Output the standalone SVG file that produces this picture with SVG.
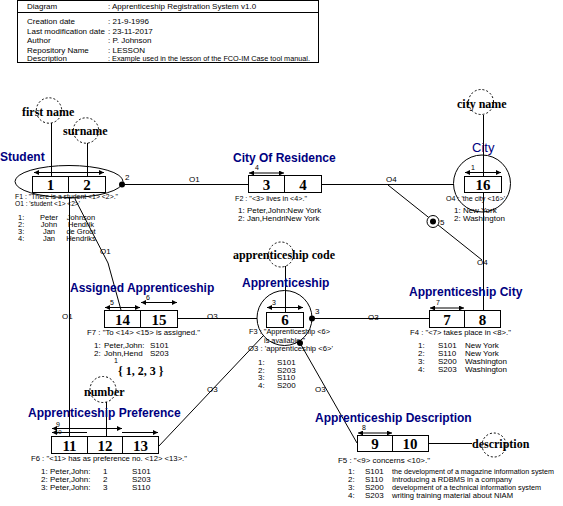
<svg xmlns="http://www.w3.org/2000/svg" width="563" height="506" viewBox="0 0 563 506">
<style>
text{font-family:"Liberation Sans",Arial,sans-serif;fill:#000}
.s{font-size:8px}
.r{font-size:7.5px}
.n{font-size:7px}
.ti{font-size:12px;font-weight:bold;fill:#000080}
.c{font-family:"Liberation Serif","Times New Roman",serif;font-size:15px;font-weight:bold;text-anchor:middle}
.l{font-family:"Liberation Serif","Times New Roman",serif;font-size:12px;font-weight:bold}
.ln{stroke:#000;stroke-width:1;fill:none}
.bx{stroke:#000;stroke-width:1;fill:#fff}
.d{stroke:#000;stroke-width:1;fill:none;stroke-dasharray:2,2}
.u{stroke:#000;stroke-width:1;fill:none;marker-start:url(#ah);marker-end:url(#ah)}
.m{text-anchor:middle}
</style>
<defs>
<marker id="ah" viewBox="0 0 6 6" refX="6" refY="3" markerWidth="5" markerHeight="5" markerUnits="userSpaceOnUse" orient="auto-start-reverse"><path d="M0,0L6,3L0,6z" fill="#000"/></marker>
</defs>
<rect width="563" height="506" fill="#fff"/>

<g id="header">
<rect x="17.5" y="0.5" width="301" height="62" class="ln"/>
<line x1="17.5" y1="12.5" x2="318.5" y2="12.5" class="ln"/>
<text class="s" x="27" y="9">Diagram</text><text class="s" x="108" y="9">: Apprenticeship Registration System v1.0</text>
<text class="s" x="27" y="24">Creation date</text><text class="s" x="108" y="24">: 21-9-1996</text>
<text class="s" x="27" y="34">Last modification date</text><text class="s" x="108" y="34">: 23-11-2017</text>
<text class="s" x="27" y="43">Author</text><text class="s" x="108" y="43">: P. Johnson</text>
<text class="s" x="27" y="53">Repository Name</text><text class="s" x="108" y="53">: LESSON</text>
<text class="s" x="27" y="61">Description</text><text class="s" x="108" y="61" textLength="202" lengthAdjust="spacingAndGlyphs">: Example used in the lesson of the FCO-IM Case tool manual.</text>
</g>

<g id="connectors">
<line x1="122" y1="184.5" x2="248" y2="184.5" class="ln"/>
<line x1="321" y1="184.5" x2="454" y2="184.5" class="ln"/>
<line x1="388" y1="185" x2="482" y2="260" class="ln"/>
<line x1="483.5" y1="115" x2="483.5" y2="176" class="ln"/>
<line x1="483.5" y1="192" x2="483.5" y2="310" class="ln"/>
<line x1="69.5" y1="197" x2="69.5" y2="436" class="ln"/>
<polyline points="75,199 108,263 121,310" class="ln"/>
<line x1="177" y1="318.5" x2="257" y2="318.5" class="ln"/>
<line x1="312" y1="318.5" x2="429" y2="318.5" class="ln"/>
<line x1="158" y1="447" x2="263" y2="336" class="ln"/>
<line x1="357" y1="443" x2="300" y2="343" class="ln"/>
<line x1="285.5" y1="266" x2="285.5" y2="312" class="ln"/>
<line x1="106.5" y1="402" x2="106.5" y2="436" class="ln"/>
<line x1="428" y1="443.5" x2="472" y2="443.5" class="ln"/>
<line x1="51.5" y1="123" x2="51.5" y2="176" class="ln"/>
<line x1="87.5" y1="143" x2="87.5" y2="176" class="ln"/>
<circle cx="122" cy="184.5" r="3" fill="#000"/>
<circle cx="312" cy="318.5" r="3" fill="#000"/>
<circle cx="300" cy="343" r="3" fill="#000"/>
<circle cx="433" cy="221.5" r="6" class="bx"/>
<circle cx="433" cy="221.5" r="3" fill="#000"/>
<text class="s" x="125" y="180">2</text>
<text class="s" x="189" y="182">O1</text>
<text class="s" x="386" y="182">O4</text>
<text class="s" x="440" y="225">5</text>
<text class="s" x="477" y="265">O4</text>
<text class="s" x="62" y="319">O1</text>
<text class="s" x="100" y="254">O1</text>
<text class="s" x="207" y="319">O3</text>
<text class="s" x="315" y="314">3</text>
<text class="s" x="368" y="320">O3</text>
<text class="s" x="207" y="392">O3</text>
<text class="s" x="315" y="392">O3</text>
</g>

<g id="first-name">
<circle cx="49" cy="110.5" r="12.7" class="d"/>
<text class="l" x="22" y="116">first name</text>
</g>
<g id="surname">
<circle cx="86" cy="130.5" r="12.7" class="d"/>
<text class="l" x="63" y="135">surname</text>
</g>
<g id="city-name">
<circle cx="481" cy="102" r="12.5" class="d"/>
<text class="l" x="457" y="108">city name</text>
</g>
<g id="apprenticeship-code">
<circle cx="281" cy="254.5" r="12.5" class="d"/>
<text class="l" x="233" y="259">apprenticeship code</text>
</g>
<g id="number">
<circle cx="103" cy="389.5" r="13" class="d"/>
<text class="l" x="84" y="396">number</text>
<text class="n" x="114" y="363">1</text>
<text class="l" x="118" y="375">{ 1, 2, 3 }</text>
</g>
<g id="description">
<circle cx="494" cy="445" r="12" class="d"/>
<text class="l" x="472" y="448">description</text>
</g>

<g id="student">
<text class="ti" x="0" y="161">Student</text>
<ellipse cx="69" cy="181.5" rx="54" ry="16" class="ln"/>
<rect x="32.5" y="176.5" width="73" height="16" class="bx"/>
<line x1="68.5" y1="176.5" x2="68.5" y2="192.5" class="ln"/>
<line x1="34" y1="172.5" x2="104" y2="172.5" class="u"/>
<text class="c" x="50.5" y="190">1</text>
<text class="c" x="87" y="190">2</text>
<text class="s" x="15" y="199" textLength="103" lengthAdjust="spacingAndGlyphs">F1 : "There is a student &lt;1&gt; &lt;2&gt;."</text>
<text class="s" x="15" y="206" textLength="65" lengthAdjust="spacingAndGlyphs">O1 : 'student &lt;1&gt; &lt;2&gt;'</text>
<text class="r" x="18" y="220">1:</text><text class="r m" x="49" y="220">Peter</text><text class="r m" x="81" y="220">Johnson</text>
<text class="r" x="18" y="227">2:</text><text class="r m" x="49" y="227">John</text><text class="r m" x="81" y="227">Hendrik</text>
<text class="r" x="18" y="234">3:</text><text class="r m" x="49" y="234">Jan</text><text class="r m" x="81" y="234">de Groot</text>
<text class="r" x="18" y="241">4:</text><text class="r m" x="49" y="241">Jan</text><text class="r m" x="81" y="241">Hendriks</text>
</g>

<g id="city-of-residence">
<text class="ti" x="233" y="162">City Of Residence</text>
<rect x="248.5" y="175.5" width="73" height="17" class="bx"/>
<line x1="284.5" y1="175.5" x2="284.5" y2="192.5" class="ln"/>
<line x1="249" y1="173" x2="284" y2="173" class="u"/>
<text class="n" x="255" y="170">4</text>
<text class="c" x="266.5" y="190">3</text>
<text class="c" x="303" y="190">4</text>
<text class="s" x="235" y="201" textLength="72" lengthAdjust="spacingAndGlyphs">F2 : "&lt;3&gt; lives in &lt;4&gt;."</text>
<text class="s" x="238" y="213">1:  Peter,John:New York</text>
<text class="s" x="238" y="221">2:  Jan,HendriNew York</text>
</g>

<g id="city">
<text class="ti" x="472" y="152" style="font-weight:normal;font-size:13px">City</text>
<circle cx="482" cy="183.5" r="28.5" class="ln"/>
<rect x="464.5" y="176.5" width="37" height="16" class="bx"/>
<line x1="465" y1="172.5" x2="501" y2="172.5" class="u"/>
<text class="n" x="471" y="170">1</text>
<text class="c" x="483" y="190">16</text>
<text class="s" x="446" y="201" textLength="59" lengthAdjust="spacingAndGlyphs">O4 : 'the city &lt;16&gt;'</text>
<text class="s" x="454" y="213">1:  New York</text>
<text class="s" x="454" y="221">2:  Washington</text>
</g>

<g id="assigned-apprenticeship">
<text class="ti" x="70" y="292">Assigned Apprenticeship</text>
<rect x="104.5" y="310.5" width="73" height="17" class="bx"/>
<line x1="140.5" y1="310.5" x2="140.5" y2="327.5" class="ln"/>
<line x1="105" y1="307.5" x2="140" y2="307.5" class="u"/>
<line x1="141" y1="302.5" x2="177" y2="302.5" class="u"/>
<text class="n" x="110" y="305">5</text>
<text class="n" x="146" y="300">6</text>
<text class="c" x="122.5" y="325">14</text>
<text class="c" x="159" y="325">15</text>
<text class="s" x="87" y="335" textLength="113" lengthAdjust="spacingAndGlyphs">F7 : "To &lt;14&gt; &lt;15&gt; is assigned."</text>
<text class="s" x="94" y="348">1:</text><text class="s" x="104" y="348">Peter,John:</text><text class="s" x="150" y="348">S101</text>
<text class="s" x="94" y="356">2:</text><text class="s" x="104" y="356">John,Hend</text><text class="s" x="150" y="356">S203</text>
</g>

<g id="apprenticeship">
<text class="ti" x="242" y="287">Apprenticeship</text>
<circle cx="284.5" cy="318" r="27.5" class="ln"/>
<rect x="266.5" y="312.5" width="37" height="15" class="bx"/>
<line x1="267" y1="307.5" x2="303" y2="307.5" class="u"/>
<text class="n" x="272" y="305">3</text>
<text class="c" x="285" y="325">6</text>
<text class="s" x="249" y="334" textLength="81" lengthAdjust="spacingAndGlyphs">F3 : "Apprenticeship &lt;6&gt;</text>
<text class="s" x="264" y="343" textLength="41" lengthAdjust="spacingAndGlyphs">is available."</text>
<text class="s" x="248" y="351" textLength="85" lengthAdjust="spacingAndGlyphs">O3 : 'apprenticeship &lt;6&gt;'</text>
<text class="s" x="258" y="365">1:</text><text class="s" x="277" y="365">S101</text>
<text class="s" x="258" y="373">2:</text><text class="s" x="277" y="373">S203</text>
<text class="s" x="258" y="380">3:</text><text class="s" x="277" y="380">S110</text>
<text class="s" x="258" y="388">4:</text><text class="s" x="277" y="388">S200</text>
</g>

<g id="apprenticeship-city">
<text class="ti" x="409" y="296">Apprenticeship City</text>
<rect x="429.5" y="310.5" width="71" height="17" class="bx"/>
<line x1="464.5" y1="310.5" x2="464.5" y2="327.5" class="ln"/>
<line x1="430" y1="308" x2="464" y2="308" class="u"/>
<text class="n" x="436" y="305">7</text>
<text class="c" x="447" y="325">7</text>
<text class="c" x="482.5" y="325">8</text>
<text class="s" x="410" y="335" textLength="101" lengthAdjust="spacingAndGlyphs">F4 : "&lt;7&gt; takes place in &lt;8&gt;."</text>
<text class="s" x="418" y="348">1:</text><text class="s" x="438" y="348">S101</text><text class="s" x="465" y="348">New York</text>
<text class="s" x="418" y="356">2:</text><text class="s" x="438" y="356">S110</text><text class="s" x="465" y="356">New York</text>
<text class="s" x="418" y="364">3:</text><text class="s" x="438" y="364">S200</text><text class="s" x="465" y="364">Washington</text>
<text class="s" x="418" y="372">4:</text><text class="s" x="438" y="372">S203</text><text class="s" x="465" y="372">Washington</text>
</g>

<g id="apprenticeship-preference">
<text class="ti" x="28" y="417">Apprenticeship Preference</text>
<rect x="51.5" y="436.5" width="107" height="17" class="bx"/>
<line x1="87.5" y1="436.5" x2="87.5" y2="453.5" class="ln"/>
<line x1="122.5" y1="436.5" x2="122.5" y2="453.5" class="ln"/>
<line x1="52" y1="428.5" x2="122" y2="428.5" class="u"/>
<line x1="52" y1="432.5" x2="87" y2="432.5" class="ln" marker-start="url(#ah)"/>
<line x1="122" y1="432.5" x2="158" y2="432.5" class="ln" marker-end="url(#ah)"/>
<text class="n" x="56" y="427">9</text>
<text class="n" x="55" y="434" style="font-size:6px">10</text>
<text class="c" x="69.5" y="451">11</text>
<text class="c" x="105" y="451">12</text>
<text class="c" x="140.5" y="451">13</text>
<text class="s" x="31" y="461" textLength="156" lengthAdjust="spacingAndGlyphs">F6 : "&lt;11&gt; has as preference no. &lt;12&gt; &lt;13&gt;."</text>
<text class="s" x="41" y="474">1:</text><text class="s" x="50" y="474">Peter,John:</text><text class="s" x="103" y="474">1</text><text class="s" x="132" y="474">S101</text>
<text class="s" x="41" y="482">2:</text><text class="s" x="50" y="482">Peter,John:</text><text class="s" x="103" y="482">2</text><text class="s" x="132" y="482">S203</text>
<text class="s" x="41" y="490">3:</text><text class="s" x="50" y="490">Peter,John:</text><text class="s" x="103" y="490">3</text><text class="s" x="132" y="490">S110</text>
</g>

<g id="apprenticeship-description">
<text class="ti" x="315" y="422">Apprenticeship Description</text>
<rect x="357.5" y="435.5" width="71" height="16" class="bx"/>
<line x1="392.5" y1="435.5" x2="392.5" y2="451.5" class="ln"/>
<line x1="358" y1="433" x2="392" y2="433" class="u"/>
<text class="n" x="362" y="430">8</text>
<text class="c" x="375" y="449">9</text>
<text class="c" x="410" y="449">10</text>
<text class="s" x="338" y="463" textLength="92" lengthAdjust="spacingAndGlyphs">F5 : "&lt;9&gt; concerns &lt;10&gt;."</text>
<text class="s" x="348" y="474">1:</text><text class="s" x="365" y="474">S101</text><text class="s" x="392" y="474" textLength="162" lengthAdjust="spacingAndGlyphs">the development of a magazine information system</text>
<text class="s" x="348" y="482">2:</text><text class="s" x="365" y="482">S110</text><text class="s" x="392" y="482" textLength="120" lengthAdjust="spacingAndGlyphs">Introducing a RDBMS in a company</text>
<text class="s" x="348" y="490">3:</text><text class="s" x="365" y="490">S200</text><text class="s" x="392" y="490" textLength="149" lengthAdjust="spacingAndGlyphs">development of a technical information system</text>
<text class="s" x="348" y="498">4:</text><text class="s" x="365" y="498">S203</text><text class="s" x="392" y="498" textLength="121" lengthAdjust="spacingAndGlyphs">writing training material about NIAM</text>
</g>
</svg>
